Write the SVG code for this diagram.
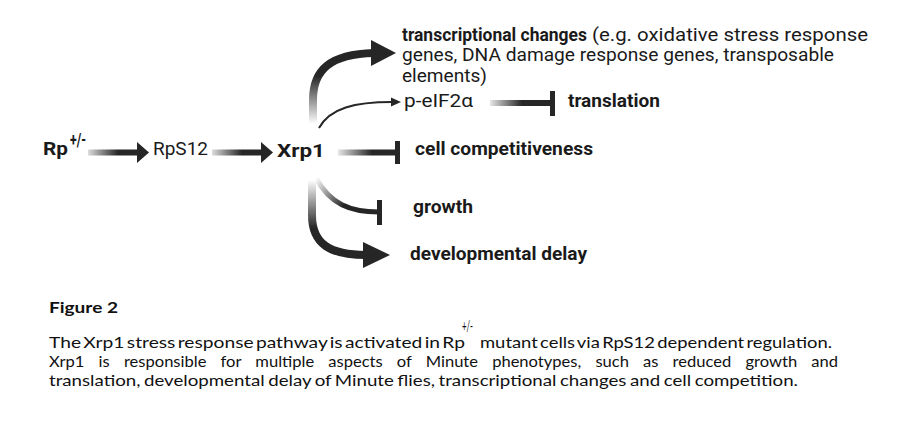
<svg xmlns="http://www.w3.org/2000/svg" width="915" height="426" viewBox="0 0 915 426">
<style>
.lbl{font-family:Roboto,"Liberation Sans",sans-serif;font-size:19px;fill:#1a1a1a}
.b{font-weight:700}
.ml{font-size:17.5px}
.cap{font-family:Lato,"Liberation Sans",sans-serif;font-size:15px;fill:#111}
.dark{fill:#262626}
.stk{fill:none;stroke-linecap:butt}
</style>
<defs>
<linearGradient id="gA" gradientUnits="userSpaceOnUse" x1="88" y1="0" x2="118" y2="0"><stop offset="0" stop-color="#dcdcdc"/><stop offset="1" stop-color="#262626"/></linearGradient>
<linearGradient id="gB" gradientUnits="userSpaceOnUse" x1="212" y1="0" x2="242" y2="0"><stop offset="0" stop-color="#dcdcdc"/><stop offset="1" stop-color="#262626"/></linearGradient>
<linearGradient id="gC" gradientUnits="userSpaceOnUse" x1="338" y1="0" x2="372" y2="0"><stop offset="0" stop-color="#e6e6e6"/><stop offset="1" stop-color="#262626"/></linearGradient>
<linearGradient id="gD" gradientUnits="userSpaceOnUse" x1="490" y1="0" x2="522" y2="0"><stop offset="0" stop-color="#e6e6e6"/><stop offset="1" stop-color="#262626"/></linearGradient>
<linearGradient id="gUp" gradientUnits="userSpaceOnUse" x1="0" y1="124" x2="0" y2="76"><stop offset="0" stop-color="#ffffff"/><stop offset="1" stop-color="#262626"/></linearGradient>
<linearGradient id="gGr" gradientUnits="userSpaceOnUse" x1="316" y1="178" x2="345" y2="204"><stop offset="0" stop-color="#ffffff"/><stop offset="1" stop-color="#262626"/></linearGradient>
<linearGradient id="gDv" gradientUnits="userSpaceOnUse" x1="0" y1="180" x2="0" y2="228"><stop offset="0" stop-color="#ffffff"/><stop offset="1" stop-color="#262626"/></linearGradient>
</defs>
<rect width="915" height="426" fill="#ffffff"/>

<g id="connectors">
  <!-- Rp -> RpS12 -->
  <line x1="88" y1="152.5" x2="138" y2="152.5" stroke="url(#gA)" stroke-width="6"/>
  <polygon class="dark" points="137,142 149,152.5 137,163"/>
  <!-- RpS12 -> Xrp1 -->
  <line x1="212" y1="152.5" x2="262" y2="152.5" stroke="url(#gB)" stroke-width="6"/>
  <polygon class="dark" points="261,142 273,152.5 261,163"/>
  <!-- Xrp1 -> transcriptional changes -->
  <path class="stk" d="M313,124 L313,100 C313,70 330,54 374,53" stroke="url(#gUp)" stroke-width="8"/>
  <polygon class="dark" points="371,40 396,53 371,66"/>
  <!-- Xrp1 -> p-eIF2a -->
  <path class="stk" d="M319,128 C330,108 355,102 392,102" stroke="#262626" stroke-width="2"/>
  <polygon class="dark" points="391,97.5 401,102 391,106.5"/>
  <!-- p-eIF2a -| translation -->
  <line x1="490" y1="103" x2="552" y2="103" stroke="url(#gD)" stroke-width="6"/>
  <rect class="dark" x="550" y="91" width="5" height="25"/>
  <!-- Xrp1 -| cell competitiveness -->
  <line x1="338" y1="152.5" x2="397" y2="152.5" stroke="url(#gC)" stroke-width="6"/>
  <rect class="dark" x="395" y="141" width="5" height="23"/>
  <!-- Xrp1 -| growth -->
  <path class="stk" d="M316,178 C330,204 350,212 379,212" stroke="url(#gGr)" stroke-width="5"/>
  <rect class="dark" x="377" y="200" width="5" height="25"/>
  <!-- Xrp1 -> developmental delay -->
  <path class="stk" d="M312,180 L312,215 C312,244 330,255 366,255" stroke="url(#gDv)" stroke-width="8"/>
  <polygon class="dark" points="363,242 390,255 363,268"/>
</g>

<g id="node-rp">
  <text class="lbl b" x="43" y="155" font-size="21" textLength="25" lengthAdjust="spacingAndGlyphs">Rp</text>
  <text class="lbl b" x="70" y="146" font-size="11" textLength="16" lengthAdjust="spacingAndGlyphs">+/-</text>
</g>
<g id="node-rps12">
  <text class="lbl" x="153" y="155" textLength="55" lengthAdjust="spacingAndGlyphs">RpS12</text>
</g>
<g id="node-xrp1">
  <text class="lbl b" x="277" y="156.5" font-size="24" textLength="48" lengthAdjust="spacingAndGlyphs">Xrp1</text>
</g>
<g id="node-transcriptional">
  <text class="lbl ml b" x="402" y="40.5" textLength="185" lengthAdjust="spacingAndGlyphs">transcriptional changes</text>
  <text class="lbl ml" x="592" y="40.5" textLength="276" lengthAdjust="spacingAndGlyphs">(e.g. oxidative stress response</text>
  <text class="lbl ml" x="402" y="61" textLength="432" lengthAdjust="spacingAndGlyphs">genes, DNA damage response genes, transposable</text>
  <text class="lbl ml" x="402" y="81.5" textLength="85" lengthAdjust="spacingAndGlyphs">elements)</text>
</g>
<g id="node-peif2a">
  <text class="lbl" x="404" y="107" textLength="69" lengthAdjust="spacingAndGlyphs">p-eIF2α</text>
</g>
<g id="node-translation">
  <text class="lbl b" x="568" y="107" textLength="92" lengthAdjust="spacingAndGlyphs">translation</text>
</g>
<g id="node-cell-competitiveness">
  <text class="lbl b" x="415" y="155" textLength="178" lengthAdjust="spacingAndGlyphs">cell competitiveness</text>
</g>
<g id="node-growth">
  <text class="lbl b" x="413" y="213" textLength="60" lengthAdjust="spacingAndGlyphs">growth</text>
</g>
<g id="node-developmental-delay">
  <text class="lbl b" x="410" y="260" textLength="177" lengthAdjust="spacingAndGlyphs">developmental delay</text>
</g>

<g id="caption">
  <text class="cap" x="49" y="313" font-size="18.5" font-weight="700" textLength="69" lengthAdjust="spacingAndGlyphs">Figure 2</text>
  <text class="cap" x="49" y="348" word-spacing="-2" textLength="416" lengthAdjust="spacingAndGlyphs">The Xrp1 stress response pathway is activated in Rp</text>
  <text class="cap" x="462" y="331" font-size="10" textLength="11" lengthAdjust="spacingAndGlyphs">+/-</text>
  <text class="cap" x="480" y="348" word-spacing="-2" textLength="352" lengthAdjust="spacingAndGlyphs">mutant cells via RpS12 dependent regulation.</text>
  <text class="cap" x="49" y="367" word-spacing="9" textLength="789" lengthAdjust="spacingAndGlyphs">Xrp1 is responsible for multiple aspects of Minute phenotypes, such as reduced growth and</text>
  <text class="cap" x="49" y="386" word-spacing="-1" textLength="749" lengthAdjust="spacingAndGlyphs">translation, developmental delay of Minute flies, transcriptional changes and cell competition.</text>
</g>
</svg>
